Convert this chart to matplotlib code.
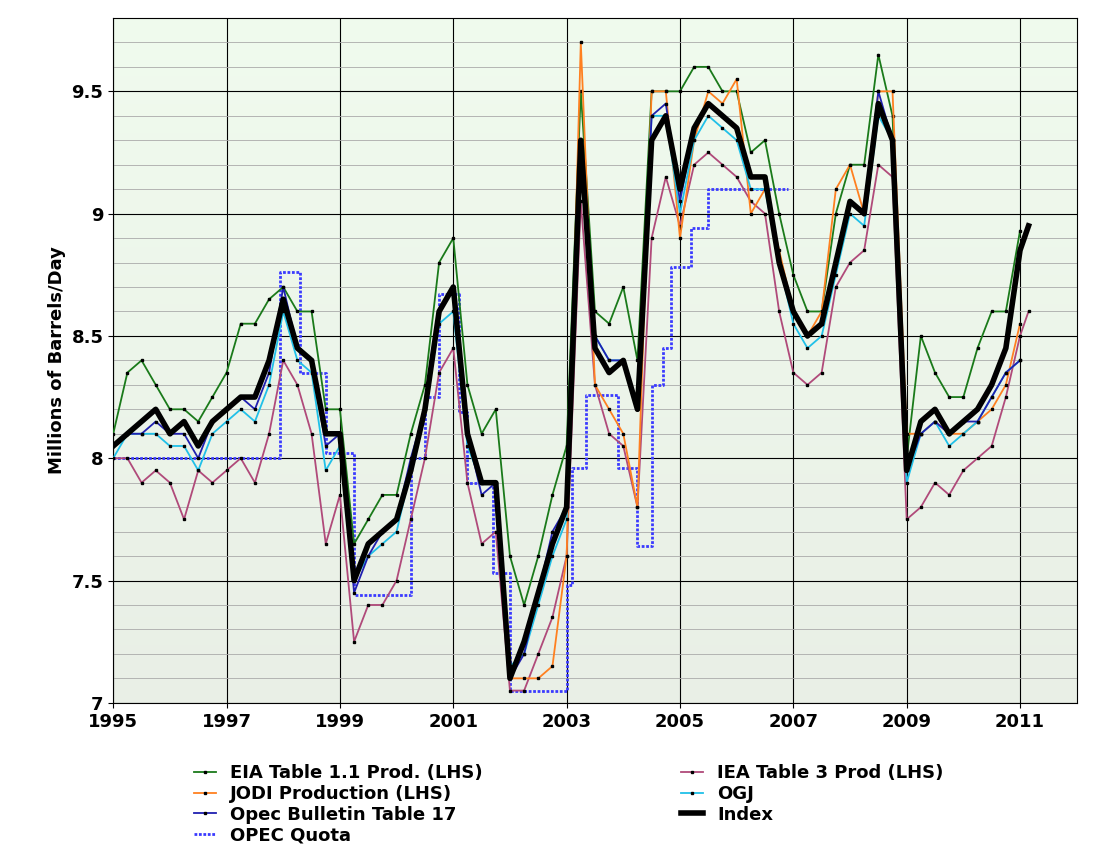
import numpy as np
import matplotlib
matplotlib.use("Agg")
import matplotlib.pyplot as plt
from matplotlib.ticker import MultipleLocator
from matplotlib.colors import LinearSegmentedColormap
from matplotlib.lines import Line2D

q = lambda start, n: [start + 0.25 * i for i in range(n)]

index_x = q(1995.0, 65) + [2011.15]
index_v = [8.05,8.1,8.15,8.2, 8.1,8.15,8.05,8.15, 8.2,8.25,8.25,8.4, 8.65,8.45,8.4,8.1,
           8.1,7.5,7.65,7.7, 7.75,7.95,8.2,8.6, 8.7,8.1,7.9,7.9, 7.1,7.25,7.45,7.65,
           7.8,9.3,8.45,8.35, 8.4,8.2,9.3,9.4, 9.1,9.35,9.45,9.4, 9.35,9.15,9.15,8.8,
           8.6,8.5,8.55,8.8, 9.05,9.0,9.45,9.3, 7.95,8.15,8.2,8.1, 8.15,8.2,8.3,8.45, 8.85,8.95]
eia_x = q(1995.0, 65)
eia_v = [8.1,8.35,8.4,8.3, 8.2,8.2,8.15,8.25, 8.35,8.55,8.55,8.65, 8.7,8.6,8.6,8.2,
         8.2,7.65,7.75,7.85, 7.85,8.1,8.3,8.8, 8.9,8.3,8.1,8.2, 7.6,7.4,7.6,7.85,
         8.05,9.5,8.6,8.55, 8.7,8.4,9.5,9.5, 9.5,9.6,9.6,9.5, 9.5,9.25,9.3,9.0,
         8.75,8.6,8.6,9.0, 9.2,9.2,9.65,9.4, 8.0,8.5,8.35,8.25, 8.25,8.45,8.6,8.6, 8.93]
iea_x = q(1995.0, 65) + [2011.15]
iea_v = [8.0,8.0,7.9,7.95, 7.9,7.75,7.95,7.9, 7.95,8.0,7.9,8.1, 8.4,8.3,8.1,7.65,
         7.85,7.25,7.4,7.4, 7.5,7.75,8.0,8.35, 8.45,7.9,7.65,7.7, 7.05,7.05,7.2,7.35,
         7.6,9.05,8.3,8.1, 8.05,7.8,8.9,9.15, 8.95,9.2,9.25,9.2, 9.15,9.05,9.0,8.6,
         8.35,8.3,8.35,8.7, 8.8,8.85,9.2,9.15, 7.75,7.8,7.9,7.85, 7.95,8.0,8.05,8.25, 8.5,8.6]
jodi_x = q(2002.0, 37)
jodi_v = [7.1,7.1,7.1,7.15, 7.6,9.7,8.3,8.2, 8.1,7.8,9.5,9.5, 8.9,9.3,9.5,9.45,
          9.55,9.0,9.1,8.85, 8.6,8.5,8.6,9.1, 9.2,9.0,9.5,9.5, 8.1,8.1,8.15,8.1,
          8.1,8.15,8.2,8.3, 8.55]
ogj_x = q(1995.0, 65)
ogj_v = [8.0,8.1,8.1,8.1, 8.05,8.05,7.95,8.1, 8.15,8.2,8.15,8.3, 8.6,8.4,8.35,7.95,
         8.05,7.5,7.6,7.65, 7.7,7.95,8.2,8.55, 8.6,8.05,7.9,7.9, 7.15,7.2,7.4,7.6,
         7.75,9.25,8.5,8.4, 8.4,8.2,9.4,9.4, 9.0,9.3,9.4,9.35, 9.3,9.1,9.1,8.8,
         8.55,8.45,8.5,8.75, 9.0,8.95,9.4,9.3, 7.9,8.1,8.15,8.05, 8.1,8.15,8.25,8.35, 8.4]
opec_x = q(1995.0, 65)
opec_v = [8.05,8.1,8.1,8.15, 8.1,8.1,8.0,8.15, 8.2,8.25,8.2,8.35, 8.7,8.45,8.4,8.05,
          8.1,7.45,7.6,7.7, 7.75,8.0,8.2,8.6, 8.7,8.1,7.85,7.9, 7.1,7.2,7.45,7.7,
          7.8,9.3,8.5,8.4, 8.4,8.2,9.4,9.45, 9.05,9.35,9.45,9.4, 9.35,9.15,9.15,8.8,
          8.6,8.5,8.55,8.8, 9.05,9.0,9.5,9.3, 7.95,8.1,8.15,8.1, 8.15,8.15,8.25,8.35, 8.4]
quota_x = [1995.0,1997.95,1998.3,1998.75,1999.25,2000.25,2000.5,2000.75,2000.9,2001.1,2001.25,
           2001.7,2002.0,2003.0,2003.1,2003.35,2003.9,2004.25,2004.5,2004.7,2004.85,2005.2,2005.5,2006.9]
quota_v = [8.0,8.76,8.35,8.02,7.44,8.0,8.25,8.67,8.67,8.19,7.9,
           7.53,7.05,7.48,7.96,8.26,7.96,7.64,8.3,8.45,8.78,8.94,9.1,9.1]
yticks = [7, 7.5, 8, 8.5, 9, 9.5]
ytick_labels = ["7", "7.5", "8", "8.5", "9", "9.5"]

fig = plt.figure(figsize=(11.1, 8.55), dpi=100)
ax = fig.add_axes([0.102, 0.178, 0.868, 0.801])
grad = np.linspace(0, 1, 256).reshape(-1, 1)
cm = LinearSegmentedColormap.from_list("g", ["#e9efe6", "#f0fbee"])
ax.imshow(grad, aspect="auto", cmap=cm, extent=[0, 1, 0, 1], transform=ax.transAxes, origin="lower", zorder=0)

ax.set_xlim(1995, 2012)
ax.set_ylim(7, 9.8)
ax.set_yticks(yticks)
ax.set_yticklabels(ytick_labels, fontweight="bold", fontsize=13)
ax.yaxis.set_minor_locator(MultipleLocator(0.1))
ax.set_xticks(range(1995, 2012, 2))
ax.set_xticklabels([str(y) for y in range(1995, 2012, 2)], fontweight="bold", fontsize=13)
ax.grid(which="major", color="black", lw=0.8, zorder=1)
ax.grid(which="minor", axis="y", color="#aaaaaa", lw=0.6, zorder=1)
ax.tick_params(which="minor", length=0)
ax.set_ylabel("Millions of Barrels/Day", fontweight="bold", fontsize=13)

mk = dict(marker="s", markersize=2, markerfacecolor="black", markeredgecolor="black", zorder=3)
ax.step(quota_x, quota_v, where="post", color="#3a3aff", lw=2, ls=(0, (1, 0.6)), zorder=2)
l1, = ax.plot(eia_x, eia_v, color="#1a7a1a", lw=1.3, label="EIA Table 1.1 Prod. (LHS)", **mk)
l2, = ax.plot(iea_x, iea_v, color="#b04a7a", lw=1.3, label="IEA Table 3 Prod (LHS)", **mk)
l3, = ax.plot(jodi_x, jodi_v, color="#ff8020", lw=1.3, label="JODI Production (LHS)", **mk)
l4, = ax.plot(ogj_x, ogj_v, color="#20c0e8", lw=1.3, label="OGJ", **mk)
l5, = ax.plot(opec_x, opec_v, color="#2020b0", lw=1.3, label="Opec Bulletin Table 17", **mk)
l6, = ax.plot(index_x, index_v, color="black", lw=4, label="Index", zorder=4)
lq = Line2D([], [], color="#3a3aff", lw=2, ls=(0, (1, 0.6)))
handles = [l1, l3, l5, lq, l2, l4, l6]
labels = [h.get_label() for h in [l1, l3, l5]] + ["OPEC Quota"] + [h.get_label() for h in [l2, l4, l6]]
fig.legend(handles, labels, ncol=2, loc="upper left", bbox_to_anchor=(0.16, 0.125), frameon=False,
           prop=dict(weight="bold", size=13), handlelength=1.2, labelspacing=0.15, columnspacing=11)
fig.savefig("out.png")
